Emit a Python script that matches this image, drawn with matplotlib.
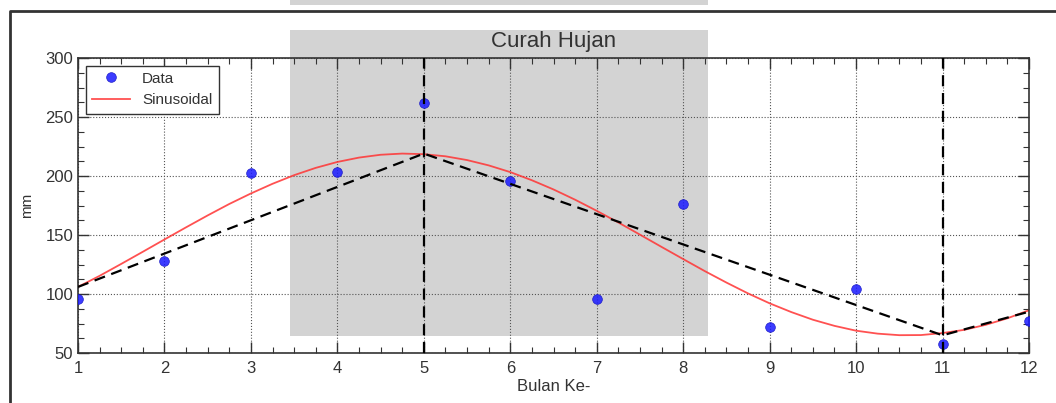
import matplotlib
matplotlib.use("Agg")
import matplotlib.pyplot as plt
from matplotlib.ticker import MultipleLocator
from matplotlib.patches import Rectangle
from matplotlib.lines import Line2D

plt.rcParams['font.family'] = ['Liberation Sans', 'DejaVu Sans']

# ---- data ----
bulan = [1, 2, 3, 4, 5, 6, 7, 8, 9, 10, 11, 12]
curah_hujan = [96, 128, 202.5, 203.5, 262, 196, 96, 176, 72, 104, 57.5, 77]

sin_x = [1.0, 1.25, 1.5, 1.75, 2.0, 2.25, 2.5, 2.75, 3.0, 3.25, 3.5, 3.75,
         4.0, 4.25, 4.5, 4.75, 5.0, 5.25, 5.5, 5.75, 6.0, 6.25, 6.5, 6.75,
         7.0, 7.25, 7.5, 7.75, 8.0, 8.25, 8.5, 8.75, 9.0, 9.25, 9.5, 9.75,
         10.0, 10.25, 10.5, 10.75, 11.0, 11.25, 11.5, 11.75, 12.0]
sin_y = [106.0, 115.4, 125.5, 135.8, 146.2, 156.5, 166.6, 176.3, 185.2, 193.4,
         200.7, 206.9, 211.9, 215.6, 218.0, 219.0, 218.5, 216.7, 213.5, 209.0,
         203.3, 196.4, 188.6, 179.9, 170.5, 160.6, 150.3, 139.9, 129.6, 119.4,
         109.7, 100.5, 92.1, 84.7, 78.2, 73.0, 68.9, 66.4, 65.1, 65.2,
         66.9, 69.6, 73.9, 79.4, 86.2]

pola_x = [1, 5, 11, 12]
pola_y = [106, 219, 65, 85]

garis_vertikal = [5, 11]

xticks = list(range(1, 13))
yticks = [50, 100, 150, 200, 250, 300]

# ---- figure ----
W, H = 1056, 403
fig = plt.figure(figsize=(W / 100, H / 100), dpi=100)

# background gray box (behind everything)
fig.patches.append(Rectangle((290 / W, 1 - 336 / H), (708 - 290) / W, (336 - 30) / H,
                             transform=fig.transFigure, facecolor='#d3d3d3',
                             edgecolor='none', zorder=-5))
fig.patches.append(Rectangle((290 / W, 1 - 5 / H), (708 - 290) / W, 5 / H,
                             transform=fig.transFigure, facecolor='#d3d3d3',
                             edgecolor='none', zorder=-5))
# outer frame
fig.lines.append(Line2D([10 / W, 10 / W, 1.0], [0.0, 1 - 11 / H, 1 - 11 / H],
                        transform=fig.transFigure, color='#333333', lw=2, zorder=-4))

ax = fig.add_axes([78 / W, 1 - 353 / H, (1029 - 78) / W, (353 - 58) / H])
ax.set_facecolor('none')

txt = '#333333'
ax.plot(bulan, curah_hujan, 'o', color='#1a1aff', alpha=0.85, ms=7,
        mec='#1010c0', mew=0.5, label='Data', zorder=3)
ax.plot(sin_x, sin_y, '-', color='#ff3333', alpha=0.85, lw=1.3,
        label='Sinusoidal', zorder=2)
ax.plot(pola_x, pola_y, '--', color='black', lw=1.6, dashes=(5, 3), zorder=4)
for xv in garis_vertikal:
    ax.axvline(xv, color='black', ls='--', lw=1.6, dashes=(5, 3), zorder=4)

ax.set_xlim(1, 12)
ax.set_ylim(50, 300)
ax.set_xticks(xticks)
ax.set_yticks(yticks)
ax.xaxis.set_minor_locator(MultipleLocator(0.25))
ax.yaxis.set_minor_locator(MultipleLocator(12.5))
ax.tick_params(which='both', direction='in', top=True, right=True,
               colors='#333333', labelcolor=txt, labelsize=12)
ax.tick_params(which='major', length=8, width=1)
ax.tick_params(which='minor', length=4, width=0.8)
ax.tick_params(axis='x', pad=6)
ax.grid(True, which='major', ls=':', color='#555555', lw=0.8)
for s in ax.spines.values():
    s.set_color('#333333')
    s.set_linewidth(1.2)

ax.set_title('Curah Hujan', fontsize=16, color=txt, pad=8)
ax.set_xlabel('Bulan Ke-', fontsize=12, color=txt, labelpad=2)
ax.set_ylabel('mm', fontsize=11, color=txt, labelpad=8)

leg = ax.legend(loc='upper left', numpoints=1, fontsize=11, fancybox=False,
                framealpha=1, edgecolor='#333333', borderaxespad=0.5,
                handlelength=2.5, handletextpad=0.8)
leg.get_frame().set_linewidth(1.0)
for t in leg.get_texts():
    t.set_color(txt)

fig.savefig('out.png', dpi=100)
